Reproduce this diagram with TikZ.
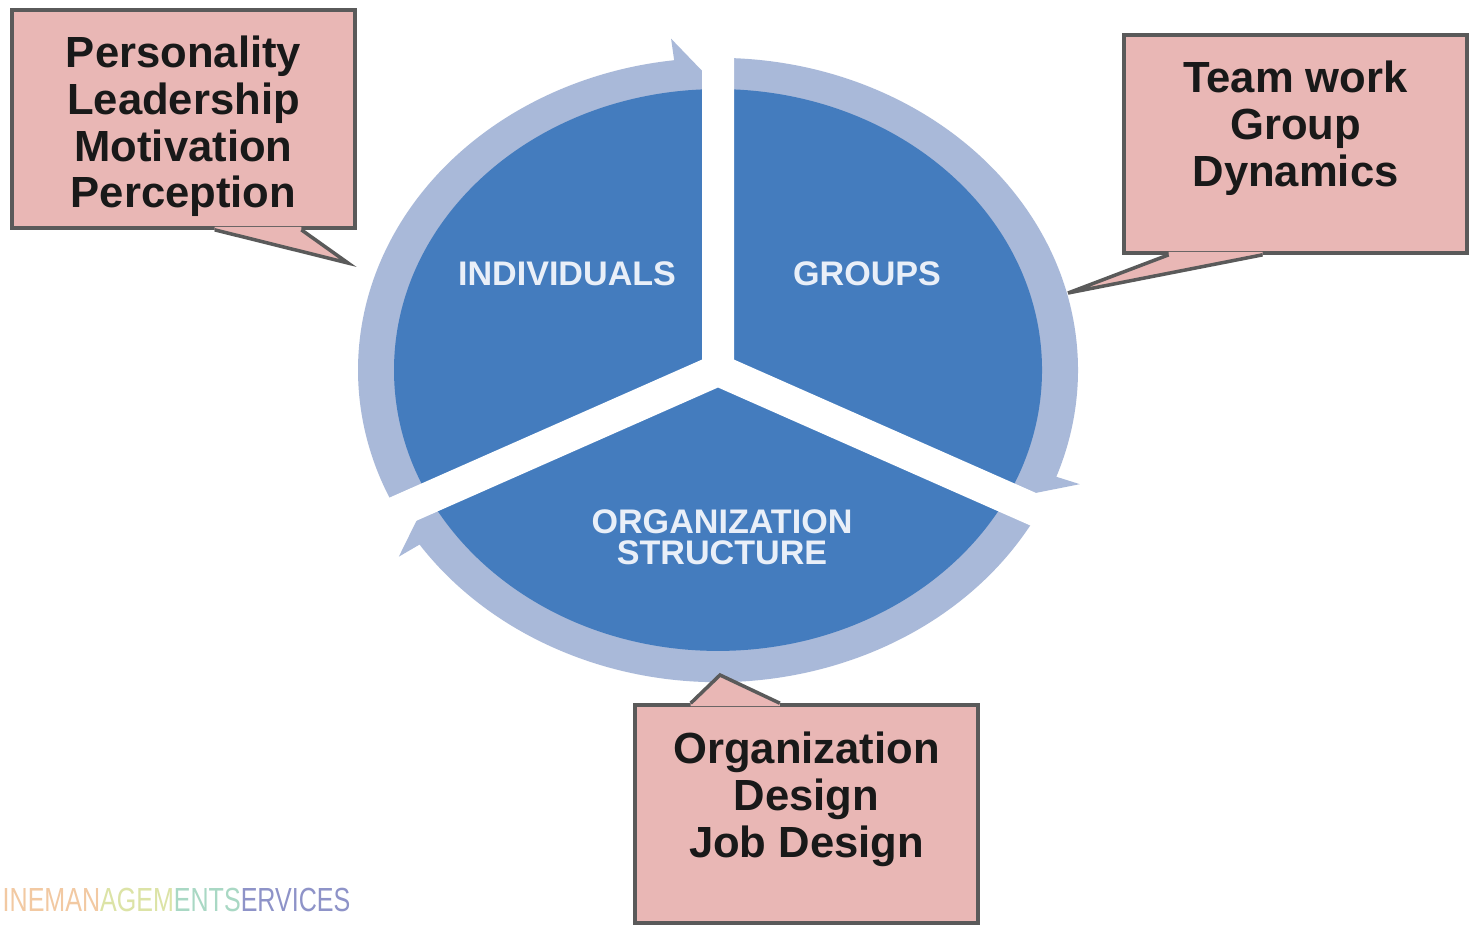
\documentclass[tikz,border=0pt]{standalone}
\usepackage{fontspec}
\setmainfont{Liberation Sans}
\usetikzlibrary{positioning,calc}
\definecolor{discblue}{HTML}{447CBE}
\definecolor{ringblue}{HTML}{A9B9D9}
\definecolor{callpink}{HTML}{E9B7B5}
\definecolor{callline}{HTML}{5A5A5A}
\definecolor{labelwhite}{HTML}{E9EFF8}
\definecolor{markA}{HTML}{F2C9A2}
\definecolor{markB}{HTML}{DCE3A6}
\definecolor{markC}{HTML}{A9D8C4}
\definecolor{markD}{HTML}{8E93C8}
\tikzset{callbox/.style = {rectangle,draw=callline,fill=callpink,line width=1pt,minimum width=3.43cm,minimum height=2.18cm},
         calltext/.style = {align=center,inner sep=0pt,text=black!90,font=\bfseries\fontsize{12.4}{13.3}\selectfont},
         sector/.style = {align=center,inner sep=0pt,text=labelwhite,font=\bfseries\fontsize{9.7}{8.8}\selectfont},
         gap/.style = {white,line width=0.32cm,line cap=round}}

\begin{document}
\begin{tikzpicture}[x=0.01cm,y=0.01cm]
    \useasboundingbox (0,0) rectangle (1471,-924);
    \fill[white] (0,0) rectangle (1471,-924);
    % ring of arrows, disc and gaps
    \begin{scope}[shift={(718,-370)},yscale=0.867]
        \foreach \s/\h/\t in {207/97/90, 90/-20/-27, -27/-146/-153}
            \fill[ringblue] (\s:360) arc[start angle=\s,end angle=\h,radius=360] -- (\h:385) -- (\t:326)
                -- (\h:292) -- (\h:300) arc[start angle=\h,end angle=\s,radius=300] -- cycle;
        \fill[discblue] (0,0) circle[radius=324];
        \draw[gap] (90:372) -- (0,0) -- (207:372) (0,0) -- (333:372);
    \end{scope}
    \node[sector] (indiv) at (567,-274) {INDIVIDUALS};
    \node[sector] (groups) at (867,-274) {GROUPS};
    \node[sector] (orgstruct) at (722,-537) {ORGANIZATION\\STRUCTURE};
    % callouts
    \node[callbox] (traits) at (183.5,-119) {};
    \node[calltext, below=0.27cm of traits.north] (traitslist) {Personality\\Leadership\\Motivation\\Perception};
    \node[callbox] (team) at (1295.5,-144) {};
    \node[calltext, below=0.27cm of team.north] (teamlist) {Team work\\Group\\Dynamics};
    \node[callbox] (orgdesign) at (806.5,-814) {};
    \node[calltext, below=0.28cm of orgdesign.north] (orglist) {Organization\\Design\\Job Design};
    \coordinate (traits-tip) at (348,-263);
    \coordinate (team-tip) at (1068,-293);
    \coordinate (orgdesign-tip) at (720,-675);
    \foreach \b/\w/\e/\p/\q/\d in {traits/south west/south east/0.59/0.84/3, team/south west/south east/0.134/0.405/3, orgdesign/north west/north east/0.166/0.423/-3}{
        \fill[callpink] ($(\b.\w)!\p!(\b.\e)+(0,\d)$) -- ($(\b.\w)!\p!(\b.\e)$) -- (\b-tip)
            -- ($(\b.\w)!\q!(\b.\e)$) -- ($(\b.\w)!\q!(\b.\e)+(0,\d)$) -- cycle;
        \draw[callline,line width=1pt] ($(\b.\w)!\p!(\b.\e)$) -- (\b-tip) -- ($(\b.\w)!\q!(\b.\e)$);
    }
    \node[anchor=west,inner sep=0pt] (mark) at (2,-900) {\scalebox{0.75}[1]{\fontsize{9.5}{9.5}\selectfont
        \textcolor{markA}{INEMAN}\textcolor{markB}{AGEM}\textcolor{markC}{ENTS}\textcolor{markD}{ERVICES}}};
\end{tikzpicture}
\end{document}
